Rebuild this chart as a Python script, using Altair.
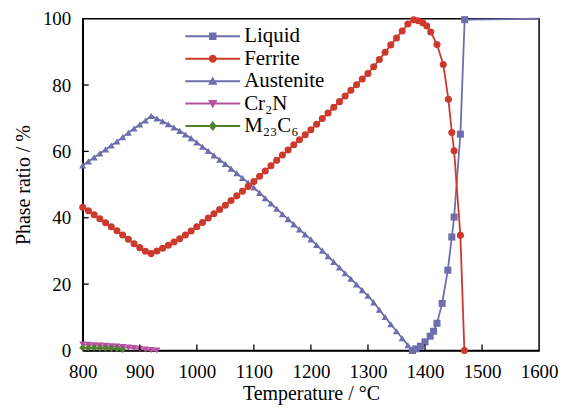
import altair as alt
import pandas as pd

# ---------------- data ----------------
series_names = ["Liquid", "Ferrite", "Austenite", "Cr₂N", "M₂₃C₆"]
series_colors = ["#6E6EAE", "#CC3A2E", "#6E6EAE", "#B5529F", "#4F7F2F"]
marker_shapes = ["square", "circle", "triangle-up", "triangle-down", "diamond"]

liquid_T = [1378, 1384, 1392, 1400, 1409, 1415, 1421, 1430, 1440, 1447, 1451, 1462, 1469.5, 1600]
liquid_v = [0.0, 0.5, 1.3, 2.6, 4.3, 5.8, 8.2, 14.2, 24.2, 34.2, 40.2, 65.2, 99.7, 100.0]

ferrite_T = [800, 810, 820, 830, 840, 850, 860, 870, 880, 890, 900, 910, 920,
             930, 940, 950, 960, 970, 980, 990, 1000, 1010, 1020, 1030, 1040,
             1050, 1060, 1070, 1080, 1090, 1100, 1110, 1120, 1130, 1140, 1150,
             1160, 1170, 1180, 1190, 1200, 1210, 1220, 1230, 1240, 1250, 1260,
             1270, 1280, 1290, 1300, 1310, 1320, 1330, 1340, 1350, 1360, 1370,
             1380, 1388, 1396, 1403, 1410, 1421, 1432, 1441, 1447, 1451, 1462, 1469]
ferrite_v = [43.2, 42.1, 40.9, 39.7, 38.5, 37.3, 36.1, 34.8, 33.5, 32.2, 31.0, 29.9, 29.2,
             30.0, 30.8, 31.7, 32.7, 33.7, 34.8, 36.0, 37.3, 38.6, 39.9, 41.2, 42.5,
             43.8, 45.2, 46.6, 48.0, 49.4, 50.9, 52.5, 54.1, 55.7, 57.3, 58.9,
             60.4, 62.0, 63.5, 65.0, 66.5, 68.2, 69.9, 71.6, 73.3, 75.0, 76.7,
             78.4, 80.1, 81.8, 83.5, 85.5, 87.7, 89.9, 92.1, 94.2, 96.3, 98.4,
             99.7, 99.4, 98.8, 97.8, 96.0, 92.2, 86.2, 75.7, 65.7, 60.2, 34.7, 0.0]

austenite_T = [800, 810, 820, 830, 840, 850, 860, 870, 880, 890, 900, 910, 920,
               930, 940, 950, 960, 970, 980, 990, 1000, 1010, 1020, 1030, 1040,
               1050, 1060, 1070, 1080, 1090, 1100, 1110, 1120, 1130, 1140, 1150,
               1160, 1170, 1180, 1190, 1200, 1210, 1220, 1230, 1240, 1250, 1260,
               1270, 1280, 1290, 1300, 1310, 1320, 1330, 1340, 1350, 1360, 1370, 1378]
austenite_v = [55.8, 57.0, 58.2, 59.4, 60.6, 61.8, 63.0, 64.3, 65.6, 66.9, 68.1, 69.3, 70.7,
               69.9, 69.1, 68.2, 67.2, 66.2, 65.1, 64.0, 62.7, 61.4, 60.1, 58.8, 57.5,
               56.2, 54.8, 53.4, 52.0, 50.6, 49.1, 47.5, 45.9, 44.3, 42.7, 41.1,
               39.6, 38.0, 36.5, 35.0, 33.5, 31.8, 30.1, 28.4, 26.7, 25.0, 23.3,
               21.6, 19.9, 18.2, 16.5, 14.5, 12.3, 10.1, 7.9, 5.8, 3.7, 1.6, 0.0]

cr2n_T = [800, 810, 820, 830, 840, 850, 860, 870, 880, 890, 900, 910, 920, 930]
cr2n_v = [1.8, 1.7, 1.6, 1.5, 1.4, 1.3, 1.2, 1.0, 0.9, 0.7, 0.5, 0.3, 0.1, 0.0]

m23c6_T = [800, 810, 820, 830, 840, 850, 860, 870]
m23c6_v = [0.8, 0.8, 0.8, 0.7, 0.7, 0.6, 0.5, 0.3]

x_tick_values = [800, 900, 1000, 1100, 1200, 1300, 1400, 1500, 1600]
y_tick_values = [0, 20, 40, 60, 80, 100]
x_inner_ticks = [900, 1000, 1100, 1200, 1300, 1400, 1500]
y_inner_ticks = [20, 40, 60, 80]

rows = []
for name, Ts, vs in [("Austenite", austenite_T, austenite_v),
                     ("Liquid", liquid_T, liquid_v),
                     ("Ferrite", ferrite_T, ferrite_v),
                     ("Cr₂N", cr2n_T, cr2n_v),
                     ("M₂₃C₆", m23c6_T, m23c6_v)]:
    rows += [{"series": name, "T": t, "v": v} for t, v in zip(Ts, vs)]
df = pd.DataFrame(rows)

# legend symbols: a line with the marker in the middle (custom SVG paths)
seg = "M-5.5,-0.2H5.5V0.2H-5.5Z"
legend_paths = [
    seg + " M-0.75,-0.75H0.75V0.75H-0.75Z",
    seg + " M-0.8,0A0.8,0.8 0 1,1 0.8,0A0.8,0.8 0 1,1 -0.8,0Z",
    seg + " M0,-0.95L0.95,0.7L-0.95,0.7Z",
    seg + " M0,0.95L-0.95,-0.7L0.95,-0.7Z",
    seg + " M0,-1L0.8,0L0,1L-0.8,0Z",
]

FONT = "Liberation Serif"
W, H = 458, 333


def build(use_encode):
    xscale = alt.Scale(domain=[800, 1600], nice=False, zero=False)
    yscale = alt.Scale(domain=[0, 100], nice=False)
    cscale = alt.Scale(domain=series_names, range=series_colors)

    x_axis = alt.Axis(values=x_tick_values, title="Temperature / °C", ticks=False, grid=False,
                      labelPadding=12, labelFlush=False, format="d", titlePadding=2)
    y_axis = alt.Axis(values=y_tick_values, title="Phase ratio / %", ticks=False, grid=False,
                      labelPadding=12, labelFlush=False, format="d", titlePadding=9)

    X = alt.X("T:Q", scale=xscale, axis=x_axis)
    Y = alt.Y("v:Q", scale=yscale, axis=y_axis)

    base = alt.Chart(df)

    lines = base.mark_line(strokeWidth=1.8).encode(
        x=X, y=Y,
        color=alt.Color("series:N", scale=cscale, legend=None),
        detail="series:N",
    )

    points = base.mark_point(filled=True, size=50, opacity=1).encode(
        x=X, y=Y,
        color=alt.Color("series:N", scale=cscale, legend=None),
        shape=alt.Shape("series:N", scale=alt.Scale(domain=series_names, range=marker_shapes), legend=None),
    ).transform_filter("datum.series != 'Liquid' || datum.T < 1500")

    leg_kw = dict(orient="none", legendX=120, legendY=7.2, title=None,
                  labelFont=FONT, labelFontSize=21, labelColor="black",
                  symbolSize=100, labelOffset=21, rowPadding=0.5, padding=0,
                  symbolStrokeWidth=0, symbolOpacity=1)
    if use_encode:
        leg_kw["encode"] = {"labels": {"update": {"font": {"value": FONT}}}}
    leg = alt.Legend(**leg_kw)

    legend_layer = base.mark_point(filled=True, size=100, opacity=1).encode(
        x=X, y=Y,
        color=alt.Color("series:N", scale=cscale, legend=leg),
        shape=alt.Shape("series:N", scale=alt.Scale(domain=series_names, range=legend_paths), legend=leg),
    ).transform_filter("false")

    xt = alt.Chart(pd.DataFrame({"T": x_inner_ticks})).mark_rule(color="black", strokeWidth=1.3).encode(
        x=X, y=alt.value(H), y2=alt.value(H - 6))
    yt = alt.Chart(pd.DataFrame({"v": y_inner_ticks})).mark_rule(color="black", strokeWidth=1.3).encode(
        y=Y, x=alt.value(0), x2=alt.value(6))

    return alt.layer(lines, points, legend_layer, xt, yt).resolve_scale(
        color="independent", shape="independent"
    ).properties(
        width=W, height=H,
        padding={"left": 5, "top": 1, "right": 10, "bottom": 5},
        background="white",
    ).configure(
        font=FONT,
    ).configure_view(stroke="black", strokeWidth=1.5).configure_axis(
        labelFont=FONT, labelFontSize=19, labelColor="black",
        titleFont=FONT, titleFontSize=20, titleFontWeight="normal", titleColor="black",
        domainColor="black", domainWidth=1.5,
    ).configure_legend(
        labelFont=FONT, labelFontSize=21, labelColor="black",
    )


try:
    chart = build(True)
    chart.save("out.html", embed_options={"renderer": "svg", "actions": False})
except Exception:
    chart = build(False)
    chart.save("out.html", embed_options={"renderer": "svg", "actions": False})
